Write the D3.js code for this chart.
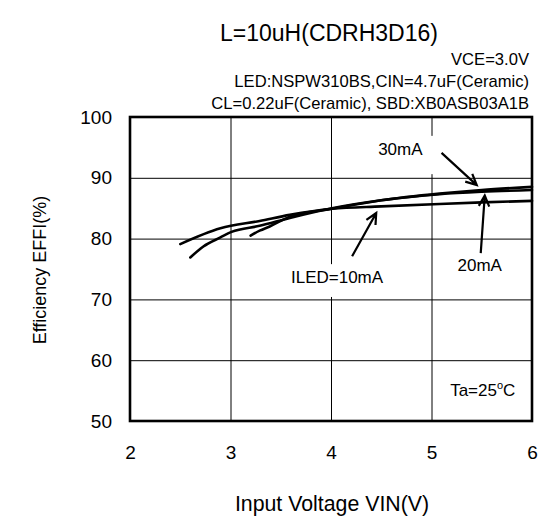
<!DOCTYPE html>
<html>
<head>
<meta charset="utf-8">
<script src="https://cdnjs.cloudflare.com/ajax/libs/d3/7.8.5/d3.min.js"></script>
<style>
body { margin: 0; background: #fff; }
svg text { font-family: "Liberation Sans", Arial, sans-serif; fill: #000; }
</style>
</head>
<body>
<div></div>
<script>
var w = 538;
var h = 521;

// data
var xTicks = [2, 3, 4, 5, 6];
var yTicks = [50, 60, 70, 80, 90, 100];

var vin10 = [2.5, 2.9, 3.29, 3.59, 4.01, 4.5, 5.08, 5.5, 6.0];
var eff10 = [79.1, 81.7, 82.9, 83.9, 84.9, 85.3, 85.7, 85.95, 86.2];

var vin20 = [2.6, 2.73, 2.9, 3.01, 3.29, 3.59, 4.01, 4.5, 5.08, 5.5, 6.0];
var eff20 = [76.9, 78.7, 80.2, 81.1, 82.1, 83.4, 85.0, 86.3, 87.3, 87.7, 88.0];

var vin30 = [3.2, 3.29, 3.39, 3.59, 4.01, 4.5, 5.08, 5.5, 6.0];
var eff30 = [80.5, 81.3, 82.0, 83.6, 84.9, 86.3, 87.4, 88.0, 88.5];

var notes = ["VCE=3.0V", "LED:NSPW310BS,CIN=4.7uF(Ceramic)", "CL=0.22uF(Ceramic), SBD:XB0ASB03A1B"];

// curve labels: text, x, y, arrow from / to (data units)
var labels = [
	{ text: "30mA", x: 4.69, y: 93.75, ax1: 5.10, ay1: 94.1, ax2: 5.45, ay2: 88.8 },
	{ text: "20mA", x: 5.48, y: 74.6, ax1: 5.49, ay1: 77.6, ax2: 5.53, ay2: 87.1 },
	{ text: "ILED=10mA", x: 4.06, y: 72.75, ax1: 4.21, ay1: 77.1, ax2: 4.45, ay2: 84.2 }
];

var plotL = 130, plotR = 532, plotT = 117, plotB = 421;

var x = d3.scaleLinear().domain([2, 6]).range([plotL, plotR]);
var y = d3.scaleLinear().domain([50, 100]).range([plotB, plotT]);

var svg = d3.select("div").append("svg")
	.attr("width", w)
	.attr("height", h);

//title and notes
svg.append("text")
	.attr("x", 329)
	.attr("y", 41)
	.attr("text-anchor", "middle")
	.style("font-size", "23px")
	.text("L=10uH(CDRH3D16)");

svg.selectAll("text.note")
	.data(notes)
	.enter()
	.append("text")
	.attr("class", "note")
	.attr("x", 529)
	.attr("y", function(d, i) { return 65 + i * 22; })
	.attr("text-anchor", "end")
	.style("font-size", "16.6px")
	.text(function(d) { return d; });

//grid via axes
var xAxis = svg.append("g")
	.attr("transform", "translate(0," + plotB + ")")
	.call(d3.axisBottom(x).tickValues(xTicks).tickSize(-(plotB - plotT)).tickPadding(25).tickFormat(d3.format("d")));

var yAxis = svg.append("g")
	.attr("transform", "translate(" + plotL + ",0)")
	.call(d3.axisLeft(y).tickValues(yTicks).tickSize(-(plotR - plotL)).tickPadding(18).tickFormat(d3.format("d")));

[xAxis, yAxis].forEach(function(a) {
	a.select(".domain").remove();
	a.selectAll("line").attr("stroke", "#000").attr("stroke-width", 1);
	a.selectAll("text").style("font-size", "19px").attr("font-family", null);
});

//label backgrounds hide the grid
var boxes = [
	{ x1: 4.38, y1: 96.9, x2: 5.04, y2: 90.6 },
	{ x1: 3.57, y1: 75.8, x2: 4.55, y2: 70.4 }
];
svg.selectAll("rect.box")
	.data(boxes)
	.enter()
	.append("rect")
	.attr("class", "box")
	.attr("x", function(d) { return x(d.x1); })
	.attr("y", function(d) { return y(d.y1); })
	.attr("width", function(d) { return x(d.x2) - x(d.x1); })
	.attr("height", function(d) { return y(d.y2) - y(d.y1); })
	.attr("fill", "#fff");

//plot frame
svg.append("rect")
	.attr("x", plotL)
	.attr("y", plotT)
	.attr("width", plotR - plotL)
	.attr("height", plotB - plotT)
	.attr("fill", "none")
	.attr("stroke", "#000")
	.attr("stroke-width", 2.6);

//curves
var line = d3.line()
	.x(function(d) { return x(d[0]); })
	.y(function(d) { return y(d[1]); })
	.curve(d3.curveMonotoneX);

var series = [d3.zip(vin10, eff10), d3.zip(vin20, eff20), d3.zip(vin30, eff30)];

svg.selectAll("path.curve")
	.data(series)
	.enter()
	.append("path")
	.attr("class", "curve")
	.attr("d", line)
	.attr("fill", "none")
	.attr("stroke", "#000")
	.attr("stroke-width", 2.6)
	.attr("stroke-linecap", "round");

//arrows
function arrowPath(d) {
	var x1 = x(d.ax1), y1 = y(d.ay1), x2 = x(d.ax2), y2 = y(d.ay2);
	var ang = Math.atan2(y2 - y1, x2 - x1);
	var len = 12, spread = 0.45;
	var hx1 = x2 - len * Math.cos(ang - spread), hy1 = y2 - len * Math.sin(ang - spread);
	var hx2 = x2 - len * Math.cos(ang + spread), hy2 = y2 - len * Math.sin(ang + spread);
	return "M" + x1 + "," + y1 + "L" + x2 + "," + y2 +
		"M" + hx1 + "," + hy1 + "L" + x2 + "," + y2 + "L" + hx2 + "," + hy2;
}

svg.selectAll("path.arrow")
	.data(labels)
	.enter()
	.append("path")
	.attr("class", "arrow")
	.attr("d", arrowPath)
	.attr("fill", "none")
	.attr("stroke", "#000")
	.attr("stroke-width", 2.2);

svg.selectAll("text.lab")
	.data(labels)
	.enter()
	.append("text")
	.attr("class", "lab")
	.attr("x", function(d) { return x(d.x); })
	.attr("y", function(d) { return y(d.y); })
	.attr("text-anchor", "middle")
	.style("font-size", "17px")
	.text(function(d) { return d.text; });

var ta = svg.append("text")
	.attr("x", x(5.51))
	.attr("y", y(54.1))
	.attr("text-anchor", "middle")
	.style("font-size", "17px");
ta.append("tspan").text("Ta=25");
ta.append("tspan").attr("dy", -7).style("font-size", "11px").text("o");
ta.append("tspan").attr("dy", 7).text("C");

//axis titles
svg.append("text")
	.attr("x", 332)
	.attr("y", 511)
	.attr("text-anchor", "middle")
	.style("font-size", "21.3px")
	.text("Input Voltage VIN(V)");

svg.append("text")
	.attr("transform", "translate(46,270) rotate(-90)")
	.attr("text-anchor", "middle")
	.style("font-size", "18px")
	.text("Efficiency EFFI(%)");
</script>
</body>
</html>
